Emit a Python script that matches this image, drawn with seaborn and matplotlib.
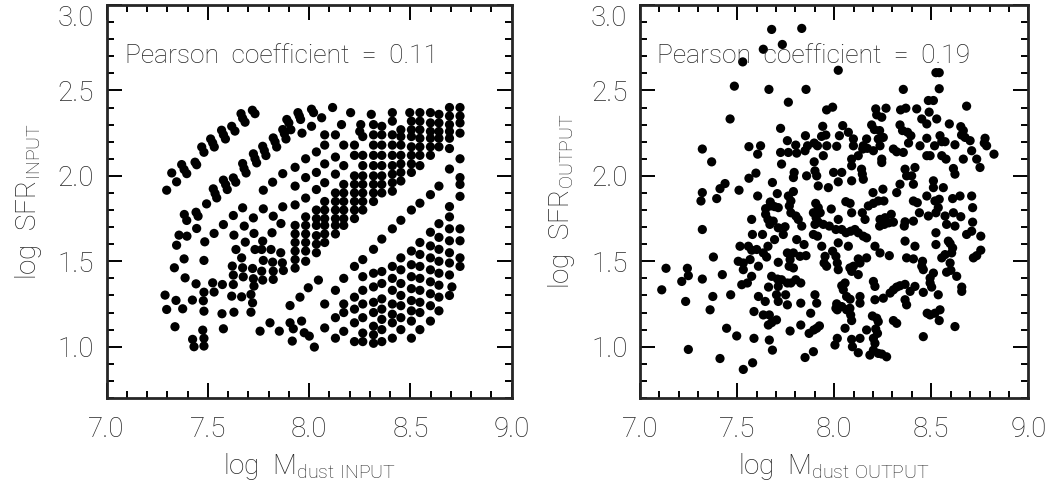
import matplotlib
matplotlib.use("Agg")
import matplotlib.pyplot as plt
import seaborn as sns
import pandas as pd
from matplotlib.ticker import MultipleLocator

# ---------------- data ----------------
# Left panel: log M_dust INPUT vs log SFR INPUT
input_band_upper = [(7.297,1.916),(7.322,2.017),(7.346,1.965),(7.371,2.066),(7.383,2.037),(7.396,2.013),
    (7.437,2.080),(7.445,2.065),(7.470,2.169),(7.481,2.138),(7.514,2.216),(7.524,2.193),(7.532,2.169),
    (7.568,2.267),(7.577,2.241),(7.587,2.216),(7.618,2.290),(7.634,2.262),(7.664,2.364),(7.672,2.337),
    (7.684,2.314),(7.720,2.384),(7.733,2.364)]

input_left = [(7.289,1.302),(7.297,1.218),(7.338,1.117),(7.343,1.271),(7.376,1.222),(7.335,1.462),(7.388,1.403),
    (7.383,1.514),(7.346,1.594),(7.358,1.653),(7.397,1.647),(7.384,1.774),(7.396,1.739),(7.424,1.273),(7.442,1.368),
    (7.445,1.692),(7.442,1.787),(7.452,1.764),(7.425,1.043),(7.432,1.000),(7.475,1.097),(7.481,1.049),(7.481,1.004),
    (7.478,1.269),(7.481,1.319),(7.481,1.208),(7.481,1.505),(7.485,1.614),(7.494,1.836),(7.527,1.924),(7.536,1.897),
    (7.544,1.871),(7.524,1.374),(7.531,1.320),(7.531,1.663),(7.572,1.364),(7.570,1.193),(7.577,1.105),(7.577,1.715),
    (7.577,1.975),(7.588,1.949),(7.596,1.920),(7.618,1.296),(7.629,1.202),(7.626,1.768),(7.626,1.988),(7.638,1.963),
    (7.621,1.472),(7.626,1.419),(7.626,1.364),(7.629,1.653),(7.639,1.569),(7.667,1.292),(7.667,1.520),(7.672,1.462),
    (7.675,1.409),(7.672,1.813),(7.672,2.072),(7.679,2.043),(7.689,2.017),(7.680,1.706),(7.685,1.612),(7.713,1.306),
    (7.721,1.257),(7.713,1.202),(7.721,1.458),(7.725,1.398),(7.728,1.355),(7.725,1.754),(7.728,1.663),(7.733,1.569),
    (7.725,2.129),(7.733,2.101),(7.741,2.076),(7.758,1.091),(7.766,1.569),(7.774,1.505),(7.766,1.442),(7.771,1.390),
    (7.774,1.807),(7.774,1.916),(7.771,1.618),(7.771,2.173),(7.779,2.148),(7.787,2.119),(7.807,1.140),(7.812,1.569),
    (7.817,1.667),(7.820,1.495),(7.823,1.442),(7.823,1.394),(7.823,1.764),(7.820,1.963),(7.823,2.222),(7.832,2.199),
    (7.840,2.169),(7.853,1.091),(7.860,1.550),(7.868,1.491),(7.873,1.446),(7.861,1.721),(7.870,1.819),(7.870,2.013),
    (7.870,2.271),(7.878,2.247),(7.886,2.216),
    (7.89,2.33),(7.90,2.31),(7.91,2.27),(7.945,2.37),(7.952,2.35),(7.958,2.33),(7.965,2.25),(8.012,2.39),(8.022,2.37),
    (8.012,2.29),(8.062,2.34),(8.116,2.40),(8.16,2.30),(8.205,2.37),(8.255,2.30),(8.25,2.26),(8.307,2.36),(8.318,2.30),
    (8.359,2.29),(8.411,2.37),(8.411,2.32),(8.497,2.37)]

# upper block, one column per entry: (log M_dust, [log SFR values])
input_upper_cols = [
    (7.931, [2.05,1.94,1.83,1.71,1.66,1.61,1.56,1.51,1.46]),
    (7.983, [2.10,1.99,1.87,1.76,1.71,1.66,1.61,1.56,1.50]),
    (8.036, [2.14,2.02,1.92,1.80,1.75,1.71,1.65,1.60,1.55]),
    (8.077, [2.24,2.18,2.07,1.96,1.85,1.80,1.75,1.71,1.66,1.61]),
    (8.130, [2.24,2.11,2.01,1.90,1.85,1.80,1.75,1.71,1.66]),
    (8.171, [2.18,2.06,1.95,1.90,1.85,1.80,1.75,1.71]),
    (8.224, [2.18,2.12,2.00,1.95,1.90,1.85,1.80,1.75]),
    (8.265, [2.23,2.12,2.06,2.00,1.95,1.90,1.85,1.80]),
    (8.318, [2.24,2.18,2.12,2.06,2.00,1.95,1.90,1.85]),
    (8.359, [2.24,2.18,2.12,2.06,2.00,1.95,1.90]),
    (8.411, [2.24,2.18,2.12,2.06,2.01,1.96,1.91]),
    (8.453, [2.27,2.23,2.18,2.12,2.07,2.02,1.97]),
    (8.505, [2.32,2.27,2.23,2.17,2.12,2.07,2.02]),
    (8.547, [2.37,2.32,2.27,2.22,2.17,2.12,2.06]),
    (8.599, [2.37,2.31,2.26,2.22,2.17,2.12]),
    (8.641, [2.36,2.31,2.26,2.22,2.17]),
    (8.693, [2.40,2.35,2.30,2.26,2.22,2.16]),
    (8.745, [2.40,2.35,2.31,2.25]),
]

input_lower_left = [(7.906,1.241),(7.906,1.140),(7.922,1.105),(7.917,1.033),(7.955,1.290),(7.963,1.150),
    (7.976,1.082),(8.001,1.062),(8.026,0.998),(7.996,1.345),(8.046,1.390)]

# lower block, one column per entry
input_lower_cols = [
    (8.077, [1.11,1.25]),
    (8.130, [1.05,1.17,1.33]),
    (8.171, [1.09,1.20,1.25,1.40]),
    (8.224, [1.03,1.14,1.22,1.29,1.47]),
    (8.265, [1.03,1.08,1.17,1.25,1.33,1.41,1.51]),
    (8.318, [1.02,1.07,1.12,1.20,1.26,1.35,1.43,1.57]),
    (8.359, [1.03,1.10,1.16,1.22,1.28,1.37,1.44,1.63]),
    (8.411, [1.05,1.14,1.19,1.25,1.33,1.40,1.47,1.69]),
    (8.453, [1.10,1.17,1.24,1.30,1.37,1.45,1.52,1.74]),
    (8.505, [1.05,1.15,1.21,1.27,1.34,1.41,1.48,1.56,1.80]),
    (8.547, [1.10,1.20,1.26,1.33,1.40,1.47,1.54,1.61,1.84]),
    (8.599, [1.15,1.24,1.31,1.38,1.45,1.52,1.59,1.67,1.89]),
    (8.641, [1.21,1.29,1.36,1.43,1.50,1.57,1.64,1.72,1.94]),
    (8.693, [1.30,1.42,1.49,1.55,1.62,1.69,1.76,1.82,2.04]),
    (8.745, [2.10,1.99,1.95,1.88,1.69,1.62,1.52,1.47]),
    (8.705, [1.35]),
]

# Right panel: log M_dust OUTPUT vs log SFR OUTPUT
output_high = [(7.678,2.857),(7.833,2.863),(7.733,2.769),(7.635,2.741),(7.529,2.667),(8.021,2.618),(8.524,2.604),
    (8.541,2.604),(7.486,2.525),(7.664,2.506),(7.855,2.506),(8.356,2.506),(8.541,2.510),(7.764,2.431),(7.464,2.333),
    (8.485,2.441),(8.511,2.441),(8.682,2.408),(7.992,2.402),(7.961,2.386),(8.214,2.392),(8.267,2.396),(8.342,2.386),
    (8.369,2.396),(8.425,2.392),(8.489,2.373),(8.219,2.357),(8.245,2.343),(7.724,2.278),(7.941,2.290),(8.044,2.294),
    (8.193,2.298),(8.339,2.298),(8.451,2.333),(8.477,2.304),(8.528,2.333),(8.593,2.304),(8.652,2.288),(8.665,2.265),
    (8.352,2.265),(8.207,2.271),(8.234,2.265),(8.545,2.235),(8.378,2.255),(8.073,2.255),(7.852,2.235),(7.759,2.206),
    (7.914,2.176),(7.935,2.231),(7.957,2.239),(8.027,2.235),(8.099,2.216),(8.167,2.216),(8.227,2.216),(8.253,2.225),
    (8.395,2.235),(8.477,2.220),(8.554,2.200),(8.674,2.225),(8.700,2.206),(8.777,2.220),(8.773,2.192),(7.321,2.157),
    (7.561,2.171),(7.621,2.176),(7.802,2.180),(7.863,2.176),(7.897,2.192),(7.962,2.176),(8.013,2.173),(8.099,2.176),
    (8.150,2.176),(8.236,2.176),(8.383,2.192),(8.442,2.176),(8.517,2.176),(8.571,2.200),(8.622,2.182),(8.656,2.239)]

output_mid = [(7.606,2.127),(7.724,2.137),(7.764,2.137),(7.807,2.133),(7.850,2.147),(7.944,2.118),(8.090,2.098),
    (8.124,2.118),(8.147,2.157),(8.171,2.161),(8.202,2.147),(8.245,2.098),(8.245,2.078),(8.305,2.157),(8.322,2.141),
    (8.356,2.137),(8.477,2.118),(8.494,2.118),(8.554,2.118),(8.576,2.098),(8.665,2.098),(8.708,2.147),(8.734,2.098),
    (8.751,2.049),(8.823,2.127),(8.785,2.176),(7.369,2.082),(7.897,2.082),(7.729,2.069),(7.597,2.016),(7.561,1.986),
    (7.682,1.961),(7.794,2.020),(7.790,1.990),(7.901,2.029),(7.910,2.000),(7.858,2.000),(7.997,2.020),(8.039,2.020),
    (8.021,1.965),(8.090,1.971),(8.090,2.059),(8.141,2.039),(8.145,2.010),(8.150,1.980),(8.365,2.039),(8.373,2.000),
    (8.416,2.049),(8.399,2.000),(8.511,1.971),(8.614,2.043),(8.622,2.010),(8.339,1.951),(8.408,1.951),(7.918,1.941),
    (7.970,1.931),(8.251,1.922),(8.200,1.902),(8.322,1.902),(8.202,1.839),(8.227,1.853),(8.256,1.853),(7.510,1.916),
    (7.412,1.925),(7.438,1.955),(7.395,1.867),(7.321,1.902),(7.314,1.853),(7.606,1.882),(7.707,1.896),(7.671,1.847),
    (7.790,1.908),(7.764,1.882),(7.777,1.853),(7.905,1.839),(7.918,1.814),(8.060,1.849),(8.082,1.839),(8.408,1.853),
    (8.428,1.843),(8.477,1.882),(8.511,1.931),(8.541,1.863),(8.519,1.853),(8.536,1.814),(8.610,1.867),(8.648,1.882),
    (8.708,1.882),(8.713,1.814),(8.562,1.931),(7.985,1.806),(8.145,1.784),(8.294,1.775),(8.365,1.731),(8.262,1.755),
    (8.236,1.745),(8.176,1.824),(7.647,1.808),(7.671,1.824),(7.693,1.820),(7.712,1.814),(7.647,1.775),(7.659,1.745),
    (7.669,1.716),(7.686,1.735),(7.712,1.696),(7.575,1.745),(7.769,1.824),(7.777,1.784),(7.803,1.765),(7.815,1.745),
    (7.833,1.706),(7.893,1.784),(7.907,1.755),(7.928,1.784),(7.918,1.729),(7.901,1.716),(7.944,1.716),(7.975,1.706),
    (8.009,1.686),(8.039,1.686),(8.021,1.745),(8.061,1.667),(8.085,1.676),(8.107,1.686),(8.124,1.667),(8.150,1.647),
    (8.167,1.637),(8.234,1.706),(8.258,1.716),(8.281,1.725),(8.305,1.729),(8.361,1.706),(8.408,1.735),(8.439,1.784),
    (8.485,1.765),(8.524,1.784),(8.571,1.765),(8.579,1.716),(8.614,1.784),(8.652,1.761),(8.713,1.729),(8.708,1.676),
    (8.755,1.647),(8.622,1.706),(8.524,1.667),(8.159,1.745),(8.090,1.784),(7.321,1.686)]

output_low = [(7.579,1.657),(7.631,1.657),(7.659,1.588),(7.693,1.627),(7.738,1.657),(7.747,1.702),(7.807,1.627),
    (7.845,1.598),(7.893,1.657),(7.914,1.647),(8.021,1.608),(8.073,1.588),(8.210,1.588),(8.365,1.618),(8.416,1.588),
    (8.524,1.598),(8.588,1.618),(8.597,1.604),(8.610,1.578),(8.605,1.549),(8.755,1.565),(8.571,1.539),(8.682,1.657),
    (7.515,1.588),(7.558,1.588),(7.575,1.565),(7.601,1.569),(7.635,1.549),(7.652,1.525),(7.378,1.525),(7.244,1.459),
    (7.134,1.459),(7.506,1.500),(7.532,1.490),(7.567,1.510),(7.610,1.471),(7.712,1.494),(7.759,1.549),(7.773,1.510),
    (7.790,1.549),(7.824,1.529),(7.855,1.533),(7.768,1.471),(7.790,1.461),(7.936,1.588),(7.953,1.529),(7.948,1.490),
    (7.961,1.471),(7.992,1.559),(8.009,1.529),(8.016,1.490),(8.021,1.451),(8.081,1.461),(8.099,1.471),(8.090,1.441),
    (8.124,1.514),(8.167,1.520),(8.133,1.490),(8.124,1.422),(8.236,1.549),(8.284,1.533),(8.373,1.520),(8.408,1.514),
    (8.455,1.500),(8.451,1.471),(8.459,1.451),(8.554,1.520),(8.597,1.490),(8.601,1.447),(8.579,1.436),(8.717,1.520),
    (8.734,1.533),(8.511,1.431),(8.494,1.402),(8.631,1.412),(7.532,1.451),(7.575,1.412),(7.678,1.412),(7.708,1.396),
    (7.729,1.392),(7.759,1.373),(7.777,1.373),(7.802,1.392),(7.828,1.373),(7.215,1.382),(7.249,1.416),(7.321,1.396),
    (7.424,1.422),(7.375,1.294),(7.467,1.304),(7.112,1.333),(7.235,1.265),(7.361,1.216),(7.524,1.363),(7.553,1.373),
    (7.610,1.294),(7.645,1.265),(7.662,1.349),(7.712,1.353),(7.703,1.304),(7.750,1.304),(7.712,1.265),(7.759,1.245),
    (7.828,1.255),(7.901,1.304),(7.910,1.255),(8.009,1.225),(8.039,1.357),(8.047,1.333),(8.056,1.373),(8.064,1.294),
    (8.082,1.278),(8.133,1.294),(8.133,1.255),(8.202,1.382),(8.210,1.353),(8.210,1.275),(8.253,1.284),(8.288,1.314),
    (8.305,1.333),(8.322,1.349),(8.339,1.357),(8.365,1.365),(8.391,1.324),(8.416,1.353),(8.365,1.275),(8.373,1.245),
    (8.459,1.318),(8.494,1.373),(8.502,1.349),(8.536,1.304),(8.657,1.349),(8.657,1.324),(7.587,1.206),(7.635,1.186),
    (7.666,1.186),(7.661,1.127),(7.678,1.141),(7.703,1.157),(7.773,1.092),(7.828,1.127),(7.879,1.196),(7.871,1.078),
    (7.895,1.098),(7.910,1.108),(7.924,1.122),(8.013,1.251),(8.016,1.216),(8.039,1.235),(8.064,1.216),(8.081,1.225),
    (8.085,1.186),(8.056,1.108),(8.090,1.153),(8.133,1.049),(8.197,1.180),(8.219,1.167),(8.227,1.147),(8.214,1.104),
    (8.167,1.098),(8.223,1.078),(8.202,1.049),(8.210,1.020),(8.305,1.153),(8.322,1.137),(8.479,1.196),(8.494,1.186),
    (8.519,1.196),(8.545,1.216),(8.541,1.153),(8.622,1.118),(8.459,1.059),(7.446,1.108),(7.498,1.063),(7.587,1.049),
    (7.666,1.039),(7.682,0.980),(7.249,0.984),(7.412,0.931),(7.532,0.867),(7.580,0.906),(7.850,0.937),(7.893,0.971),
    (8.004,1.010),(8.016,1.049),(8.090,1.043),(8.094,1.000),(8.124,0.965),(8.184,0.951),(8.202,0.980),(8.227,0.961),
    (8.245,0.957),(8.270,0.941)]

pearson_input = "Pearson  coefficient  =  0.11"
pearson_output = "Pearson  coefficient  =  0.19"
x_ticks = [7.0, 7.5, 8.0, 8.5, 9.0]
y_ticks = [1.0, 1.5, 2.0, 2.5, 3.0]

# ---------------- style ----------------
sns.set_style("ticks")
plt.rcParams["font.family"] = ["Roboto", "DejaVu Sans"]
plt.rcParams["font.weight"] = "light"
plt.rcParams["axes.labelweight"] = "light"
plt.rcParams["mathtext.fontset"] = "custom"
plt.rcParams["mathtext.rm"] = "Roboto:light"
plt.rcParams["mathtext.it"] = "Roboto:light"
plt.rcParams["mathtext.default"] = "regular"

def to_df(groups, col_groups=()):
    xs, ys = [], []
    for g in groups:
        for px, py in g:
            xs.append(px); ys.append(py)
    for cg in col_groups:
        for cx, cys in cg:
            for cy in cys:
                xs.append(cx); ys.append(cy)
    return pd.DataFrame({"x": xs, "y": ys})

df_in = to_df([input_band_upper, input_left, input_lower_left], [input_upper_cols, input_lower_cols])
df_out = to_df([output_high, output_mid, output_low])

fig = plt.figure(figsize=(10.64, 4.90), dpi=100)
ax1 = fig.add_axes([0.1001, 0.1878, 0.3808, 0.802])
ax2 = fig.add_axes([0.6015, 0.1878, 0.3650, 0.802])

def style(ax, df, ptxt, ylab, xlab):
    sns.scatterplot(data=df, x="x", y="y", ax=ax, color="black", s=44,
                    linewidth=0, edgecolor="none", legend=False)
    ax.set_xlim(7.0, 9.0)
    ax.set_ylim(0.7, 3.0)
    ax.set_xticks(x_ticks)
    ax.set_yticks(y_ticks)
    ax.set_xticklabels([f"{v:.1f}" for v in x_ticks])
    ax.set_yticklabels([f"{v:.1f}" for v in y_ticks])
    ax.get_yticklabels()[-1].set_verticalalignment("top")
    ax.xaxis.set_minor_locator(MultipleLocator(0.1))
    ax.yaxis.set_minor_locator(MultipleLocator(0.1))
    ax.tick_params(which="both", direction="in", top=True, right=True,
                   width=1.4, color="black")
    ax.tick_params(which="major", length=11, labelsize=20)
    ax.tick_params(which="minor", length=5)
    ax.tick_params(axis="x", which="major", pad=13)
    ax.tick_params(axis="y", which="major", pad=9)
    for sp in ax.spines.values():
        sp.set_linewidth(2.0)
        sp.set_visible(True)
    ax.set_xlabel(xlab, fontsize=20, labelpad=6, fontweight="light")
    ax.set_ylabel(ylab, fontsize=20, labelpad=10, fontweight="light")
    ax.text(7.09, 2.70, ptxt, fontsize=19, va="center", ha="left")

style(ax1, df_in, pearson_input, r"log  SFR$_{\mathrm{INPUT}}$", r"log  M$_{\mathrm{dust\ INPUT}}$")
style(ax2, df_out, pearson_output, r"log  SFR$_{\mathrm{OUTPUT}}$", r"log  M$_{\mathrm{dust\ OUTPUT}}$")

fig.savefig("out.png", dpi=100)
